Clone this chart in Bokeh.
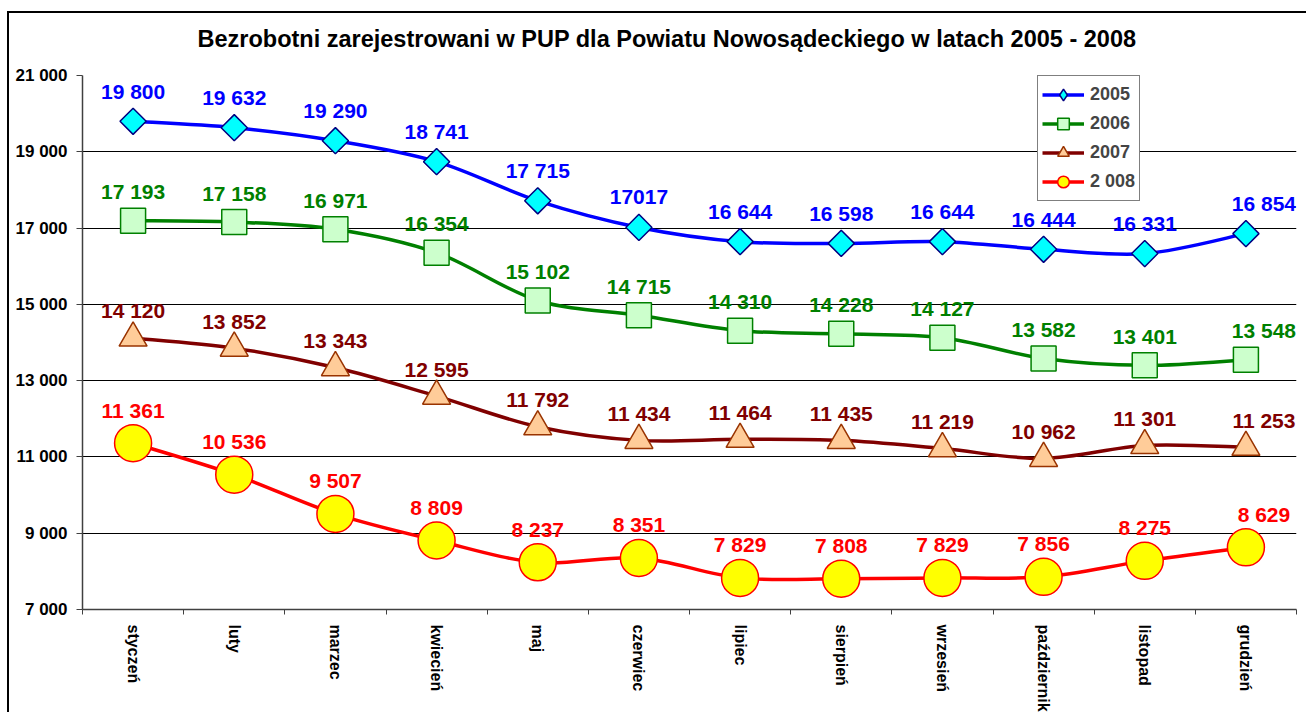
import numpy as np
from bokeh.plotting import figure
from bokeh.models import FixedTicker, Legend, LegendItem, ColumnDataSource, Range1d, Title
from bokeh.core.properties import value
from bokeh.embed import file_html
from bokeh.resources import INLINE

# ---------------- data ----------------
months = ["styczeń", "luty", "marzec", "kwiecień", "maj", "czerwiec",
          "lipiec", "sierpień", "wrzesień", "październik", "listopad", "grudzień"]
v2005 = [19800, 19632, 19290, 18741, 17715, 17017, 16644, 16598, 16644, 16444, 16331, 16854]
v2006 = [17193, 17158, 16971, 16354, 15102, 14715, 14310, 14228, 14127, 13582, 13401, 13548]
v2007 = [14120, 13852, 13343, 12595, 11792, 11434, 11464, 11435, 11219, 10962, 11301, 11253]
v2008 = [11361, 10536, 9507, 8809, 8237, 8351, 7829, 7808, 7829, 7856, 8275, 8629]
series_names = ["2005", "2006", "2007", "2 008"]
y_ticks = [7000, 9000, 11000, 13000, 15000, 17000, 19000, 21000]
y_tick_labels = ["7 000", "9 000", "11 000", "13 000", "15 000", "17 000", "19 000", "21 000"]
title_text = "Bezrobotni zarejestrowani w PUP dla Powiatu Nowosądeckiego w latach 2005 - 2008"


def fmt(v):
    return f"{v:,}".replace(",", " ")


lbl2005 = [fmt(v) for v in v2005]
lbl2005[5] = "17017"          # as printed in the original
lbl2006 = [fmt(v) for v in v2006]
lbl2007 = [fmt(v) for v in v2007]
lbl2008 = [fmt(v) for v in v2008]

FONT = "Liberation Sans"
W, H = 1299, 701

p = figure(width=W, height=H, output_backend="svg", toolbar_location=None, title=None,
           x_range=Range1d(-0.5, 11.5), y_range=Range1d(7000, 21000),
           min_border_left=73, min_border_right=12, min_border_top=62, min_border_bottom=105)
# outer chart frame: only its top and left edges fall inside the picture
p.styles = {"margin-left": "7px", "margin-top": "11px",
            "border-top": "2px solid #000000", "border-left": "2px solid #000000"}
p.outline_line_color = None
p.background_fill_color = "white"
p.border_fill_color = "white"

# spacer between title and plot area, then the title itself
p.add_layout(Title(text=" ", text_font_size="1px", standoff=21), "above")
p.add_layout(Title(text=title_text, text_font=FONT, text_font_style="bold", text_color="#000000",
                   text_font_size="23.5px", align="left", offset=115, standoff=0), "above")

# axes
yt = FixedTicker(ticks=y_ticks)
p.yaxis.ticker = yt
p.ygrid.ticker = yt
p.yaxis.major_label_overrides = dict(zip(y_ticks, y_tick_labels))
p.yaxis.major_tick_out = 6
p.yaxis.major_tick_in = 0
p.yaxis.minor_tick_line_color = None
p.yaxis.major_label_standoff = 9
p.ygrid.grid_line_color = "#000000"
p.ygrid.grid_line_width = 1
p.xgrid.visible = False

xt = FixedTicker(ticks=list(range(12)), minor_ticks=[i - 0.5 for i in range(13)])
p.xaxis.ticker = xt
p.xaxis.major_label_overrides = {i: m for i, m in enumerate(months)}
p.xaxis.major_label_orientation = "vertical"
p.xaxis.major_tick_out = 0
p.xaxis.major_tick_in = 0
p.xaxis.minor_tick_out = 5
p.xaxis.minor_tick_in = 0
p.xaxis.minor_tick_line_color = "#404040"
p.xaxis.major_label_standoff = 10

for ax in (p.xaxis, p.yaxis):
    ax.axis_line_color = "#404040"
    ax.axis_line_width = 1.5
    ax.major_label_text_font = FONT
    ax.major_label_text_font_style = "bold"
    ax.major_label_text_color = "#000000"
p.yaxis.major_label_text_font_size = "17px"
p.xaxis.major_label_text_font_size = "16px"
p.yaxis.major_tick_line_color = "#404040"
p.xaxis.major_tick_line_color = None


def bezier_source(ys):
    n = len(ys)
    pts = [(float(i), float(ys[i])) for i in range(n)]
    d = dict(x0=[], y0=[], x1=[], y1=[], cx0=[], cy0=[], cx1=[], cy1=[])
    for i in range(n - 1):
        p0 = pts[i - 1] if i > 0 else pts[i]
        p1 = pts[i]
        p2 = pts[i + 1]
        p3 = pts[i + 2] if i + 2 < n else pts[i + 1]
        d["x0"].append(p1[0]); d["y0"].append(p1[1])
        d["x1"].append(p2[0]); d["y1"].append(p2[1])
        d["cx0"].append(p1[0] + (p2[0] - p0[0]) / 6); d["cy0"].append(p1[1] + (p2[1] - p0[1]) / 6)
        d["cx1"].append(p2[0] - (p3[0] - p1[0]) / 6); d["cy1"].append(p2[1] - (p3[1] - p1[1]) / 6)
    return ColumnDataSource(d)


styles = [
    # values, labels, line color, marker, size, angle, fill, outline, label color, y offset, legend marker
    (v2005, lbl2005, "#0000FF", "square", 18.5, np.pi / 4, "#00FFFF", "#000080", "#0000FF", -30, "diamond"),
    (v2006, lbl2006, "#008000", "square", 25, 0.0, "#CCFFCC", "#008000", "#008000", -29, None),
    (v2007, lbl2007, "#800000", "triangle", 28, 0.0, "#FFCC99", "#993300", "#800000", -27, None),
    (v2008, lbl2008, "#FF0000", "circle", 37, 0.0, "#FFFF00", "#FF0000", "#FF0000", -33, None),
]
label_dx = [0] * 11 + [18]

items = []
for (vals, lbls, lc, mk, sz, ang, fc, oc, tc, dy, lmk), name in zip(styles, series_names):
    bz = p.bezier(x0="x0", y0="y0", x1="x1", y1="y1", cx0="cx0", cy0="cy0", cx1="cx1", cy1="cy1",
                  source=bezier_source(vals), line_color=lc, line_width=3.5)
    src = ColumnDataSource(dict(x=list(range(12)), y=vals, t=lbls, dx=label_dx))
    sc = p.scatter(x="x", y="y", source=src, marker=mk, size=sz, angle=ang,
                   fill_color=fc, line_color=oc, line_width=1.5)
    if lmk is not None:
        # legend-only marker (zero size in the plot; legend draws its own size)
        lsc = p.scatter(x="x", y="y", source=src, marker=lmk, size=0,
                        fill_color=fc, line_color=oc, line_width=1.5)
    else:
        lsc = sc
    items.append((name, bz, lsc, src, tc, dy))

for name, bz, lsc, src, tc, dy in items:
    p.text(x="x", y="y", text="t", source=src, x_offset="dx", y_offset=dy,
           text_font=value(FONT), text_font_style="bold", text_font_size="21px",
           text_color=tc, text_align="center", text_baseline="middle")

legend = Legend(items=[LegendItem(label=name, renderers=[bz, lsc]) for name, bz, lsc, _, _, _ in items],
                location=(955, 408), orientation="vertical",
                glyph_width=42, glyph_height=29, label_height=20, spacing=0,
                padding=4, margin=0, label_standoff=6,
                label_text_font=FONT, label_text_font_style="bold", label_text_font_size="18px",
                border_line_color="#000000", border_line_width=1,
                background_fill_color="white", background_fill_alpha=1.0)
p.add_layout(legend, "center")

open("out.html", "w").write(file_html(p, INLINE))
